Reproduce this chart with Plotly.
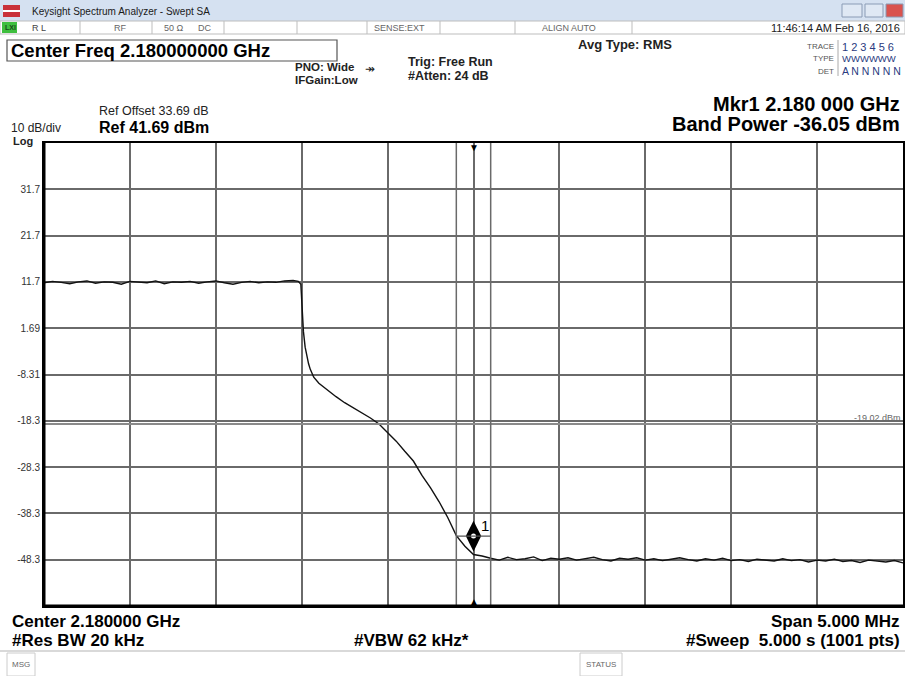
import plotly.graph_objects as go

# ---------------- data ----------------
center_ghz = 2.180
span_mhz = 5.0
ref_level = 41.69
db_per_div = 10.0
display_line = -19.02
mkr_freq_ghz = 2.180
band_span_mhz = 0.2
band_power = -36.05

freq_offset_mhz = [
    -2.50, -2.45, -2.40, -2.35, -2.30, -2.25, -2.20, -2.15, -2.10, -2.05,
    -2.00, -1.95, -1.90, -1.85, -1.80, -1.75, -1.70, -1.65, -1.60, -1.55,
    -1.50, -1.45, -1.40, -1.35, -1.30, -1.25, -1.20, -1.15, -1.10, -1.05,
    -1.02, -1.005, -0.995, -0.99, -0.98, -0.97, -0.96, -0.95, -0.93, -0.90,
    -0.85, -0.80, -0.75, -0.70, -0.65, -0.60, -0.55, -0.50, -0.45, -0.40,
    -0.35, -0.30, -0.25, -0.20, -0.15, -0.10, -0.05, 0.00, 0.05,
    0.10, 0.15, 0.20, 0.25, 0.30, 0.35, 0.40, 0.45, 0.50, 0.55,
    0.60, 0.65, 0.70, 0.75, 0.80, 0.85, 0.90, 0.95, 1.00, 1.05,
    1.10, 1.15, 1.20, 1.25, 1.30, 1.35, 1.40, 1.45, 1.50, 1.55,
    1.60, 1.65, 1.70, 1.75, 1.80, 1.85, 1.90, 1.95, 2.00, 2.05,
    2.10, 2.15, 2.20, 2.25, 2.30, 2.35, 2.40, 2.45, 2.50,
]
level_dbm = [
    11.5, 11.8, 11.6, 11.3, 11.7, 11.9, 11.4, 11.7, 11.6, 11.2,
    11.8, 11.6, 11.5, 11.9, 11.3, 11.7, 11.6, 11.8, 11.4, 11.7,
    11.9, 11.5, 11.2, 11.6, 11.8, 11.5, 11.7, 11.6, 11.9, 12.0,
    11.8, 11.2, 5.0, 1.0, -2.4, -4.6, -6.0, -7.2, -8.9, -10.2,
    -11.7, -13.1, -14.4, -15.5, -16.6, -17.7, -19.0, -20.8, -22.7, -24.9,
    -27.0, -30.1, -32.8, -35.8, -39.2, -43.1, -45.4, -47.2, -47.5,
    -48.0, -48.4, -47.8, -48.3, -48.1, -47.7, -48.5, -48.0, -48.2, -47.9,
    -48.4, -48.1, -47.8, -48.3, -48.6, -48.0, -48.2, -47.9, -48.4, -48.1,
    -48.5, -48.2, -47.9, -48.3, -48.6, -48.1, -48.4, -48.0, -48.5, -48.3,
    -48.7, -48.2, -48.4, -48.6, -48.1, -48.5, -48.3, -48.8, -48.4, -48.6,
    -48.2, -48.7, -48.5, -48.9, -48.4, -48.6, -48.8, -48.5, -49.0,
]
y_tick_labels = ["31.7", "21.7", "11.7", "1.69", "-8.31", "-18.3", "-28.3", "-38.3", "-48.3"]

# ---------------- derived ----------------
freq_ghz = [center_ghz + f / 1000.0 for f in freq_offset_mhz]
x_lo = center_ghz - span_mhz / 2000.0
x_hi = center_ghz + span_mhz / 2000.0
y_hi = ref_level
y_lo = ref_level - 10 * db_per_div
y_tickvals = [ref_level - db_per_div * k for k in range(1, 10)]
band_lo = mkr_freq_ghz - band_span_mhz / 2000.0
band_hi = mkr_freq_ghz + band_span_mhz / 2000.0

idx = min(range(len(freq_ghz)), key=lambda i: abs(freq_ghz[i] - mkr_freq_ghz))
mkr_level = level_dbm[idx]

W, H = 905, 676
def px(x): return x / W
def py(y): return 1 - y / H

FONT = "Liberation Sans, Arial, sans-serif"

fig = go.Figure()

fig.add_trace(go.Scatter(x=freq_ghz, y=level_dbm, mode="lines",
                         line=dict(color="#111111", width=1.4), hoverinfo="skip"))

fig.add_trace(go.Scatter(x=[mkr_freq_ghz], y=[mkr_level + 4.0], mode="markers",
                         marker=dict(symbol="diamond-tall", size=22, color="black",
                                     line=dict(width=0)), hoverinfo="skip"))
fig.add_trace(go.Scatter(x=[mkr_freq_ghz], y=[mkr_level + 4.0], mode="markers",
                         marker=dict(symbol="circle", size=5, color="white",
                                     line=dict(width=0)), hoverinfo="skip"))

fig.update_layout(
    width=W, height=H, margin=dict(l=0, r=0, t=0, b=0),
    paper_bgcolor="white", plot_bgcolor="white", showlegend=False,
    font=dict(family=FONT, color="black"),
    xaxis=dict(domain=[px(44), px(903)], range=[x_lo, x_hi], dtick=span_mhz / 10000.0,
               tick0=x_lo, showgrid=True, gridcolor="#6a6a6a", gridwidth=1.5,
               showticklabels=False, ticks="", zeroline=False,
               showline=True, linecolor="black", linewidth=2, mirror=True),
    yaxis=dict(domain=[py(606), py(143)], range=[y_lo, y_hi],
               tickvals=y_tickvals, ticktext=y_tick_labels,
               showgrid=True, gridcolor="#6a6a6a", gridwidth=1.5,
               tickfont=dict(size=10, color="#333333", family=FONT), ticks="",
               zeroline=False, showline=True, linecolor="black", linewidth=2, mirror=True),
)

shapes = []
shapes.append(dict(type="line", xref="x domain", yref="y", x0=0, x1=1,
                   y0=display_line, y1=display_line, line=dict(color="#8a8a8a", width=2)))
for b in (band_lo, band_hi):
    shapes.append(dict(type="line", xref="x", yref="y domain", x0=b, x1=b, y0=0, y1=1,
                       line=dict(color="#6a6a6a", width=1.5)))
shapes.append(dict(type="line", xref="x", yref="y", x0=band_lo, x1=band_hi,
                   y0=mkr_level + 4.0, y1=mkr_level + 4.0, line=dict(color="#555555", width=1.2)))
shapes.append(dict(type="line", xref="paper", yref="paper", x0=px(44), x1=px(44),
                   y0=py(606), y1=py(143), line=dict(color="black", width=3)))
shapes.append(dict(type="line", xref="paper", yref="paper", x0=px(44), x1=px(903),
                   y0=py(606), y1=py(606), line=dict(color="black", width=3)))

# title bar
shapes.append(dict(type="rect", xref="paper", yref="paper", x0=0, x1=1, y0=py(21), y1=1,
                   fillcolor="#d5e1f1", line=dict(width=0), layer="below"))
shapes.append(dict(type="rect", xref="paper", yref="paper", x0=px(3), x1=px(20), y0=py(17), y1=py(5),
                   fillcolor="#c9313a", line=dict(width=0)))
shapes.append(dict(type="rect", xref="paper", yref="paper", x0=px(3), x1=px(20), y0=py(12), y1=py(10),
                   fillcolor="white", line=dict(width=0)))
for (a, b, c) in [(842, 862, "#dfe8f4"), (865, 883, "#dfe8f4"), (886, 903, "#d9534f")]:
    shapes.append(dict(type="rect", xref="paper", yref="paper", x0=px(a), x1=px(b), y0=py(17), y1=py(4),
                       fillcolor=c, line=dict(color="#8a9bb5", width=1)))
# status row
shapes.append(dict(type="rect", xref="paper", yref="paper", x0=px(0), x1=px(905), y0=py(34), y1=py(21),
                   fillcolor="white", line=dict(color="#bdbdbd", width=1)))
for xs in [80, 152, 224, 297, 367, 440, 515, 632]:
    shapes.append(dict(type="line", xref="paper", yref="paper", x0=px(xs), x1=px(xs), y0=py(34), y1=py(21),
                       line=dict(color="#bdbdbd", width=1)))
shapes.append(dict(type="rect", xref="paper", yref="paper", x0=px(2), x1=px(17), y0=py(33), y1=py(22),
                   fillcolor="#3fbf3f", line=dict(width=0)))
# center freq box
shapes.append(dict(type="rect", xref="paper", yref="paper", x0=px(7), x1=px(337), y0=py(61), y1=py(40),
                   fillcolor="rgba(0,0,0,0)", line=dict(color="#555555", width=1.2)))
# trace table divider
shapes.append(dict(type="line", xref="paper", yref="paper", x0=px(838), x1=px(838), y0=py(76), y1=py(40),
                   line=dict(color="#aaaaaa", width=1)))
# bottom separators
shapes.append(dict(type="line", xref="paper", yref="paper", x0=0, x1=1, y0=py(651), y1=py(651),
                   line=dict(color="#cccccc", width=1.5)))
for (a, b) in [(7, 35), (580, 622)]:
    shapes.append(dict(type="rect", xref="paper", yref="paper", x0=px(a), x1=px(b), y0=py(676), y1=py(653),
                       fillcolor="rgba(0,0,0,0)", line=dict(color="#cccccc", width=1)))
fig.update_layout(shapes=shapes)

ann = []
def T(x, y, text, size=12, bold=False, anchor="left", color="black", family=FONT):
    t = f"<b>{text}</b>" if bold else text
    ann.append(dict(x=px(x), y=py(y), xref="paper", yref="paper", text=t, showarrow=False,
                    xanchor=anchor, yanchor="middle", font=dict(size=size, color=color, family=family)))

T(30, 11, "Keysight Spectrum Analyzer - Swept SA", 10, color="#1a1a1a")
T(10, 28, "LXI", 7, True, "center", "#1a4a1a")
T(30, 28, "R L", 9, color="#444")
T(112, 28, "RF", 9, color="#666")
T(162, 28, "50 Ω", 9, color="#666")
T(196, 28, "DC", 9, color="#666")
T(372, 28, "SENSE:EXT", 9, color="#666")
T(540, 28, "ALIGN AUTO", 9, color="#666")
T(902, 28, "11:46:14 AM Feb 16, 2016", 11, anchor="right", color="#222")

T(9, 50, "Center Freq 2.180000000 GHz", 18.5, True)
T(293, 67, "PNO: Wide", 11.5, True, color="#222")
T(293, 80, "IFGain:Low", 11.5, True, color="#222")
T(370, 69, "↠", 12, anchor="center", color="#222")
T(406, 62, "Trig: Free Run", 12.5, True, color="#222")
T(406, 76, "#Atten: 24 dB", 12.5, True, color="#222")
T(576, 45, "Avg Type: RMS", 13, True, color="#222")
T(836, 47, "TRACE", 8, anchor="right", color="#555")
T(836, 59, "TYPE", 8, anchor="right", color="#555")
T(836, 71, "DET", 8, anchor="right", color="#555")
T(840, 47, "1 2 3 4 5 6", 11, color="#2a3a80")
T(840, 59, "WWWWWW", 9.5, color="#2a3a80")
T(840, 71, "A N N N N N", 10.5, color="#2a3a80")

T(902, 104, "Mkr1 2.180 000 GHz", 20, True, "right")
T(902, 124, f"Band Power {band_power:.2f} dBm", 20, True, "right")
T(97, 111, "Ref Offset 33.69 dB", 12.5, color="#222")
T(97, 128, "Ref 41.69 dBm", 16, True)
T(9, 128, "10 dB/div", 12, color="#222")
T(11, 141, "Log", 11, True, color="#222")

T(10, 621, "Center 2.180000 GHz", 17, True)
T(10, 640, "#Res BW 20 kHz", 17, True)
T(352, 640, "#VBW 62 kHz*", 17, True)
T(902, 621, "Span 5.000 MHz", 17, True, "right")
T(902, 640, "#Sweep  5.000 s (1001 pts)", 17, True, "right")
T(21, 664, "MSG", 8, anchor="center", color="#666")
T(601, 664, "STATUS", 8, anchor="center", color="#666")

ann.append(dict(x=1, y=display_line, xref="x domain", yref="y", text=f"{display_line:.2f} dBm",
                showarrow=False, xanchor="right", yanchor="bottom", yshift=-1,
                font=dict(size=9, color="#666", family=FONT)))
ann.append(dict(x=mkr_freq_ghz, y=mkr_level + 4.0, xref="x", yref="y", text="1", showarrow=False,
                xanchor="left", yanchor="bottom", xshift=5, yshift=0,
                font=dict(size=15, color="black", family=FONT)))
ann.append(dict(x=mkr_freq_ghz, y=1, xref="x", yref="y domain", text="▼", showarrow=False,
                xanchor="center", yanchor="top", yshift=3, font=dict(size=10, color="black")))
ann.append(dict(x=mkr_freq_ghz, y=0, xref="x", yref="y domain", text="▲", showarrow=False,
                xanchor="center", yanchor="bottom", yshift=-3, font=dict(size=10, color="black")))
fig.update_layout(annotations=ann)

fig.write_html("out.html", config={"displayModeBar": False},
               post_script="document.body.style.margin='0';document.body.style.overflow='hidden';")
